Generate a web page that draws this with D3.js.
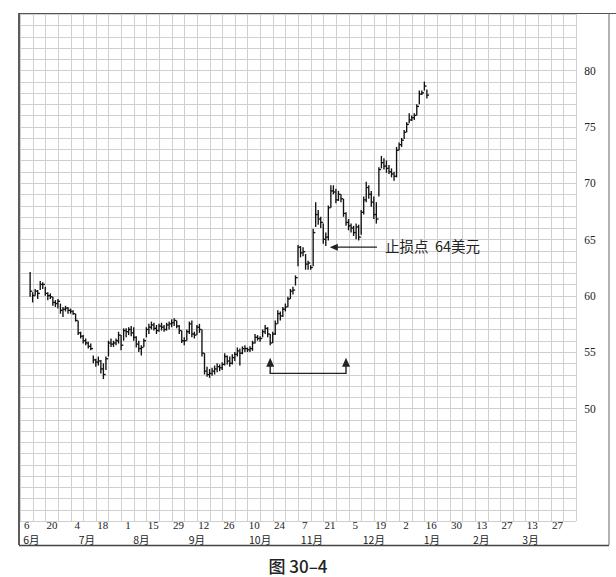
<!DOCTYPE html>
<html><head><meta charset="utf-8">
<script src="https://cdn.jsdelivr.net/npm/d3@7"></script>
<style>
html,body{margin:0;padding:0;background:#fff;}
svg{display:block;}
</style></head>
<body>
<svg id="chart" width="616" height="577"></svg>
<script>
// ---- data ----
const dateLabels = ["6","20","4","18","1","15","29","12","26","10","24","7","21","5","19","2","16","30","13","27","13","27"];
const monthLabels = ["6月","7月","8月","9月","10月","11月","12月","1月","2月","3月"];
const monthWeek = [0.9,5.3,9.6,14.0,19.0,23.1,28.0,32.6,36.5,40.4];
const priceTicks = [50,55,60,65,70,75,80];
const high = [62.1,60.3,60.6,60.5,61.3,61.2,60.8,60.3,60.2,59.9,59.6,59.7,59.3,59.0,59.1,59.0,58.85,58.7,58.4,57.8,
56.8,56.5,56.2,55.9,55.75,54.7,54.4,54.6,54.3,54.0,54.6,56.0,56.2,56.0,56.2,56.8,56.5,57.1,57.1,57.2,
57.3,57.2,56.4,56.0,55.6,56.2,57.2,57.5,57.7,57.6,57.4,57.5,57.6,57.4,57.6,57.7,57.9,58.0,57.8,57.4,
56.9,56.3,57.0,57.7,57.8,56.8,57.4,57.5,57.0,54.9,53.7,53.5,53.6,53.8,54.0,53.9,54.1,54.9,54.7,54.6,
54.8,55.0,55.4,55.3,55.5,55.6,55.4,55.5,56.0,56.6,56.5,56.4,57.0,57.4,57.2,56.6,56.8,57.8,58.7,58.6,
59.0,59.3,59.9,60.6,60.8,61.8,64.5,64.4,64.3,63.7,63.1,62.7,65.95,68.3,67.6,67.0,66.4,65.6,68.0,69.8,
69.8,69.5,69.3,69.0,68.6,67.4,66.8,66.4,66.2,66.4,66.3,67.6,68.8,70.1,69.8,69.3,68.8,68.3,71.4,72.4,
72.2,72.0,71.6,71.3,71.0,73.2,73.6,74.0,74.7,75.4,76.2,76.0,76.2,77.0,78.2,78.2,79.0,78.3];
const low = [59.9,59.4,60.0,59.7,60.5,60.6,60.0,59.6,59.7,59.1,59.0,58.85,58.4,58.1,58.6,58.4,58.4,58.3,57.7,56.5,
56.2,55.75,55.6,55.3,55.15,54.0,53.7,53.8,53.1,52.6,53.4,54.6,55.45,55.45,55.6,55.75,55.15,56.0,56.3,56.5,
56.4,56.0,55.4,55.0,54.7,55.45,56.3,56.6,57.0,56.9,56.6,56.8,56.9,56.8,56.9,57.0,57.2,57.3,57.1,56.6,
55.8,55.6,56.0,56.6,56.3,56.2,56.5,56.7,54.6,53.0,52.8,52.7,52.9,53.0,53.2,53.3,53.4,53.8,53.9,53.7,
53.9,54.2,54.6,53.8,54.8,55.0,55.0,55.0,55.1,55.75,56.0,55.9,56.3,56.6,56.3,55.6,55.8,56.5,57.5,57.8,
58.1,58.6,59.0,59.7,60.1,60.9,62.6,63.4,63.5,62.3,62.3,62.3,62.6,66.1,66.3,66.0,64.6,64.4,64.9,67.8,
69.0,68.2,68.4,68.3,67.0,66.2,65.8,65.6,65.3,65.0,64.9,65.4,67.2,68.3,68.6,67.9,66.8,66.4,68.8,71.3,
71.2,70.9,70.8,70.5,70.2,70.5,72.9,73.2,73.9,74.5,75.3,75.5,75.6,76.0,77.0,77.8,78.2,77.5];
const close = [60.4,60.0,60.4,60.2,61.0,61.0,60.2,60.0,59.9,59.4,59.3,59.5,58.7,58.8,58.9,58.7,58.6,58.4,57.8,56.7,
56.4,56.0,55.8,55.5,55.3,54.3,54.1,54.2,53.5,53.0,54.4,55.8,55.7,55.8,56.0,56.5,55.6,56.9,56.8,57.0,
56.7,56.3,55.7,55.3,55.4,56.0,57.0,57.2,57.4,57.1,56.9,57.3,57.2,57.0,57.4,57.5,57.6,57.8,57.3,56.9,
56.0,56.0,56.8,57.5,56.6,56.5,57.2,57.0,54.9,53.3,53.0,53.1,53.3,53.5,53.7,53.6,53.9,54.6,54.2,54.0,
54.5,54.8,55.1,54.9,55.3,55.3,55.2,55.3,55.8,56.3,56.2,56.2,56.8,57.1,56.6,55.8,56.6,57.5,58.4,58.2,
58.8,59.0,59.7,60.4,60.5,61.6,64.3,63.8,63.9,62.8,62.9,62.5,65.6,67.2,66.8,66.5,65.0,65.2,67.8,69.3,
69.2,68.5,69.0,68.6,67.3,66.5,66.2,66.0,65.6,66.1,65.2,67.4,68.5,69.6,69.0,68.3,67.2,66.8,71.2,71.8,
71.5,71.3,71.0,70.8,70.6,72.9,73.4,73.8,74.5,75.2,75.6,75.8,76.0,76.8,77.9,78.0,78.6,77.8];
const stopLabel = "止损点  64美元";
const stopPrice = 64.3;
const caption = "图 30–4";

// ---- layout ----
const svg = d3.select("#chart");
const nWeeks = 44;
const x = d3.scaleLinear().domain([0, nWeeks]).range([20, 576]);
const y = d3.scaleLinear().domain([40, 85]).range([521, 14]);
const barWeek = i => 0.8 + 0.2 * i;

// grid
const grid = svg.append("g").attr("stroke", "#d0d0d0").attr("stroke-width", 1);
grid.selectAll("line.v").data(d3.range(0, nWeeks + 1)).join("line")
  .attr("x1", d => Math.round(x(d)) + 0.5).attr("x2", d => Math.round(x(d)) + 0.5)
  .attr("y1", y(85)).attr("y2", y(40));
grid.selectAll("line.h").data(d3.range(40, 86)).join("line")
  .attr("y1", d => Math.round(y(d)) + 0.5).attr("y2", d => Math.round(y(d)) + 0.5)
  .attr("x1", x(0)).attr("x2", x(nWeeks));

// frame
svg.append("line").attr("x1", 19).attr("x2", 19).attr("y1", 13).attr("y2", 545)
  .attr("stroke", "#333").attr("stroke-width", 1.6);
svg.append("line").attr("x1", 19).attr("x2", 616).attr("y1", 13.5).attr("y2", 13.5)
  .attr("stroke", "#555").attr("stroke-width", 1.2);
svg.append("line").attr("x1", 19).attr("x2", 609).attr("y1", 545.5).attr("y2", 545.5)
  .attr("stroke", "#444").attr("stroke-width", 1.3);
svg.append("line").attr("x1", 609).attr("x2", 609).attr("y1", 13).attr("y2", 545)
  .attr("stroke", "#666").attr("stroke-width", 1);

// right price axis
const yAxis = d3.axisRight(y).tickValues(priceTicks).tickSize(0).tickPadding(0);
const ya = svg.append("g").attr("transform", "translate(590,0)").call(yAxis);
ya.select(".domain").remove();
ya.selectAll("text").attr("text-anchor", "middle").attr("font-family", "Liberation Serif, serif")
  .attr("font-size", 11.5).attr("fill", "#222");

// bottom date labels
const xAxis = d3.axisBottom(x).tickValues(dateLabels.map((d, k) => 2 * k + 0.5))
  .tickFormat((d, k) => dateLabels[k]).tickSize(0).tickPadding(0);
const xa = svg.append("g").attr("transform", "translate(0,521)").call(xAxis);
xa.select(".domain").remove();
xa.selectAll("text").attr("dy", null).attr("y", 7.5)
  .attr("font-family", "Liberation Serif, serif").attr("font-size", 11).attr("fill", "#222");

svg.append("g").selectAll("text").data(monthLabels).join("text")
  .attr("x", (d, k) => x(monthWeek[k])).attr("y", 543.5)
  .attr("text-anchor", "middle").attr("font-family", "Noto Sans CJK SC, sans-serif")
  .attr("font-size", 10.5).attr("fill", "#222").text(d => d);

// bars
const bars = svg.append("g").attr("stroke", "#111").attr("stroke-width", 1.35).attr("fill", "none");
bars.selectAll("line.hl").data(high).join("line")
  .attr("x1", (d, i) => x(barWeek(i))).attr("x2", (d, i) => x(barWeek(i)))
  .attr("y1", d => y(d)).attr("y2", (d, i) => y(low[i]));
bars.selectAll("line.c").data(close).join("line")
  .attr("x1", (d, i) => x(barWeek(i))).attr("x2", (d, i) => x(barWeek(i)) + 2.2)
  .attr("y1", d => y(d)).attr("y2", d => y(d));

// stop-loss annotation
const stopX = x(barWeek(117)) + 4;
const sy = y(stopPrice);
svg.append("line").attr("x1", stopX + 6).attr("x2", 377).attr("y1", sy).attr("y2", sy)
  .attr("stroke", "#222").attr("stroke-width", 1.2);
svg.append("path").attr("d", `M${stopX},${sy} l8,-3.5 l0,7 Z`).attr("fill", "#222");
svg.append("text").attr("x", 385).attr("y", sy + 5).attr("font-family", "Noto Sans CJK SC, sans-serif")
  .attr("font-size", 14.5).attr("fill", "#222").attr("xml:space", "preserve").style("white-space", "pre")
  .text(stopLabel);

// bracket arrows
const bx1 = x(19.8), bx2 = x(25.8), by = y(53.1), bt = y(54.5);
svg.append("path").attr("d", `M${bx1},${bt + 6} L${bx1},${by} L${bx2},${by} L${bx2},${bt + 6}`)
  .attr("fill", "none").attr("stroke", "#222").attr("stroke-width", 1.4);
[bx1, bx2].forEach(bx => {
  svg.append("path").attr("d", `M${bx},${bt} l-4,9 l8,0 Z`).attr("fill", "#222");
});

// caption
svg.append("text").attr("x", 298).attr("y", 572.5).attr("text-anchor", "middle")
  .attr("font-family", "Noto Sans CJK SC, sans-serif").attr("font-size", 17).attr("font-weight", 500)
  .attr("fill", "#222").text(caption);
</script>
</body></html>
